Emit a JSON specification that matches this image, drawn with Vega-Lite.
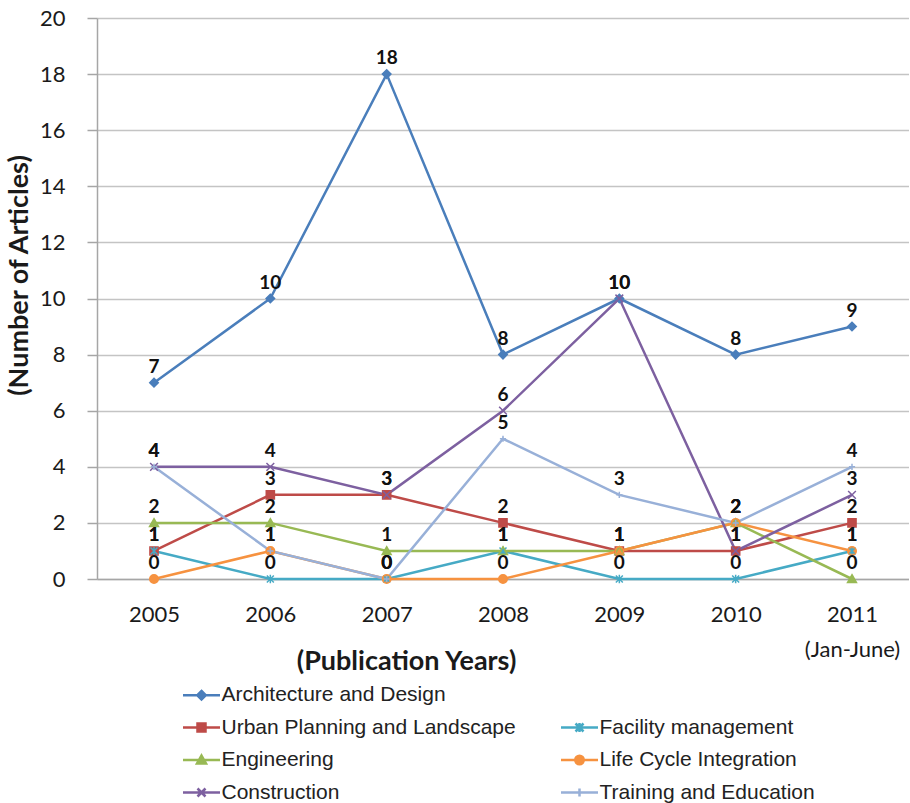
{
  "$schema": "https://vega.github.io/schema/vega-lite/v6.json",
  "width": 812,
  "height": 561,
  "padding": {"left": 5, "top": 7, "right": 0, "bottom": 0},
  "autosize": {"type": "pad"},
  "background": "white",
  "config": {
    "view": {"stroke": null},
    "font": "Lato",
    "axis": {"labelColor": "#1a1a1a", "titleColor": "#1a1a1a"}
  },
  "data": {
    "values": [
      {"year": "2005", "series": "Architecture and Design", "value": 7},
      {"year": "2006", "series": "Architecture and Design", "value": 10},
      {"year": "2007", "series": "Architecture and Design", "value": 18},
      {"year": "2008", "series": "Architecture and Design", "value": 8},
      {"year": "2009", "series": "Architecture and Design", "value": 10},
      {"year": "2010", "series": "Architecture and Design", "value": 8},
      {"year": "2011", "series": "Architecture and Design", "value": 9},
      {"year": "2005", "series": "Urban Planning and Landscape", "value": 1},
      {"year": "2006", "series": "Urban Planning and Landscape", "value": 3},
      {"year": "2007", "series": "Urban Planning and Landscape", "value": 3},
      {"year": "2008", "series": "Urban Planning and Landscape", "value": 2},
      {"year": "2009", "series": "Urban Planning and Landscape", "value": 1},
      {"year": "2010", "series": "Urban Planning and Landscape", "value": 1},
      {"year": "2011", "series": "Urban Planning and Landscape", "value": 2},
      {"year": "2005", "series": "Facility management", "value": 1},
      {"year": "2006", "series": "Facility management", "value": 0},
      {"year": "2007", "series": "Facility management", "value": 0},
      {"year": "2008", "series": "Facility management", "value": 1},
      {"year": "2009", "series": "Facility management", "value": 0},
      {"year": "2010", "series": "Facility management", "value": 0},
      {"year": "2011", "series": "Facility management", "value": 1},
      {"year": "2005", "series": "Engineering", "value": 2},
      {"year": "2006", "series": "Engineering", "value": 2},
      {"year": "2007", "series": "Engineering", "value": 1},
      {"year": "2008", "series": "Engineering", "value": 1},
      {"year": "2009", "series": "Engineering", "value": 1},
      {"year": "2010", "series": "Engineering", "value": 2},
      {"year": "2011", "series": "Engineering", "value": 0},
      {"year": "2005", "series": "Life Cycle Integration", "value": 0},
      {"year": "2006", "series": "Life Cycle Integration", "value": 1},
      {"year": "2007", "series": "Life Cycle Integration", "value": 0},
      {"year": "2008", "series": "Life Cycle Integration", "value": 0},
      {"year": "2009", "series": "Life Cycle Integration", "value": 1},
      {"year": "2010", "series": "Life Cycle Integration", "value": 2},
      {"year": "2011", "series": "Life Cycle Integration", "value": 1},
      {"year": "2005", "series": "Construction", "value": 4},
      {"year": "2006", "series": "Construction", "value": 4},
      {"year": "2007", "series": "Construction", "value": 3},
      {"year": "2008", "series": "Construction", "value": 6},
      {"year": "2009", "series": "Construction", "value": 10},
      {"year": "2010", "series": "Construction", "value": 1},
      {"year": "2011", "series": "Construction", "value": 3},
      {"year": "2005", "series": "Training and Education", "value": 4},
      {"year": "2006", "series": "Training and Education", "value": 1},
      {"year": "2007", "series": "Training and Education", "value": 0},
      {"year": "2008", "series": "Training and Education", "value": 5},
      {"year": "2009", "series": "Training and Education", "value": 3},
      {"year": "2010", "series": "Training and Education", "value": 2},
      {"year": "2011", "series": "Training and Education", "value": 4}
    ]
  },
  "resolve": {"axis": {"x": "independent"}, "legend": {"color": "independent"}},
  "layer": [
    {
      "mark": {"type": "line", "strokeWidth": 2.5},
      "encoding": {
        "x": {
          "field": "year", "type": "ordinal",
          "scale": {"type": "point", "padding": 0.49},
          "axis": {
            "orient": "bottom",
            "title": "(Publication Years)",
            "labelAngle": 0, "labelFontSize": 22, "labelPadding": 25,
            "ticks": false, "grid": false,
            "domainColor": "#a6a6a6", "domainWidth": 1.5,
            "titleFontSize": 27, "titleFontWeight": "bold",
            "titleX": 309, "titleY": 82, "titleBaseline": "middle", "titleAlign": "center", "titleAnchor": null
          }
        },
        "y": {
          "field": "value", "type": "quantitative",
          "scale": {"domain": [0, 20]},
          "axis": {
            "values": [0, 2, 4, 6, 8, 10, 12, 14, 16, 18, 20],
            "title": "(Number of Articles)",
            "grid": true, "gridColor": "#c4c4c4", "gridWidth": 1.5,
            "domainColor": "#a6a6a6", "domainWidth": 1.5,
            "ticks": true, "tickColor": "#a6a6a6", "tickSize": 10, "tickWidth": 1.5,
            "labelFontSize": 22, "labelPadding": 22,
            "titleFontSize": 27, "titleFontWeight": "bold",
            "titleX": -78, "titleY": 257, "titleBaseline": "middle", "titleAlign": "center", "titleAngle": -90
          }
        },
        "color": {
          "field": "series", "type": "nominal",
          "scale": {
            "domain": ["Architecture and Design", "_", "Urban Planning and Landscape", "Facility management", "Engineering", "Life Cycle Integration", "Construction", "Training and Education"],
            "range": ["#4A7EBB", "rgba(0,0,0,0)", "#BE4B48", "#46AAC5", "#98B954", "#F69240", "#7D60A0", "#98B0D8"]
          },
          "legend": {
            "orient": "none", "legendX": 94, "legendY": 666.5,
            "direction": "horizontal",
            "columns": 2, "title": null, "padding": 0,
            "symbolSize": 100, "symbolStrokeWidth": 2.5, "symbolOpacity": 1,
            "labelFont": "Liberation Sans", "labelFontSize": 21, "labelColor": "#222222",
            "labelOffset": 9.5, "rowPadding": 10.5, "columnPadding": 40, "labelLimit": 400,
            "labelExpr": "datum.label == '_' ? '' : datum.label",
            "encode": {
              "symbols": {
                "update": {
                  "fill": {"signal": "scale('color', datum.value)"},
                  "stroke": {"signal": "scale('color', datum.value)"},
                  "strokeWidth": {"value": 2.5},
                  "opacity": {"value": 1},
                  "shape": {"signal": "datum.value == 'Architecture and Design' ? 'M-3.7,0L3.7,0M0,-0.85L0.85,0L0,0.85L-0.85,0Z' : datum.value == 'Urban Planning and Landscape' ? 'M-3.7,0L3.7,0M-0.8,-0.8L0.8,-0.8L0.8,0.8L-0.8,0.8Z' : datum.value == 'Facility management' ? 'M-3.7,0L3.7,0M-0.8,-0.8L0.8,0.8M-0.8,0.8L0.8,-0.8M0,-0.9L0,0.9' : datum.value == 'Engineering' ? 'M-3.7,0L3.7,0M0,-0.9L0.9,0.7L-0.9,0.7Z' : datum.value == 'Life Cycle Integration' ? 'M-3.7,0L3.7,0M-0.85,0A0.85,0.85,0,1,1,0.85,0A0.85,0.85,0,1,1,-0.85,0Z' : datum.value == 'Construction' ? 'M-3.7,0L3.7,0M-0.8,-0.8L0.8,0.8M-0.8,0.8L0.8,-0.8' : datum.value == 'Training and Education' ? 'M-3.7,0L3.7,0M0,-0.8L0,0.8' : 'M0,0'"}
                }
              }
            }
          }
        }
      }
    },
    {
      "mark": {"type": "point", "filled": true, "size": 60, "opacity": 1},
      "encoding": {
        "x": {"field": "year", "type": "ordinal", "axis": null},
        "y": {"field": "value", "type": "quantitative"},
        "color": {"field": "series", "type": "nominal", "legend": null},
        "shape": {
          "field": "series", "type": "nominal",
          "scale": {
            "domain": ["Architecture and Design", "_", "Urban Planning and Landscape", "Facility management", "Engineering", "Life Cycle Integration", "Construction", "Training and Education"],
            "range": [
              "M0,-1.1L1.1,0L0,1.1L-1.1,0Z",
              "M0,0",
              "M-1.05,-1.05L1.05,-1.05L1.05,1.05L-1.05,1.05Z",
              "M-0.9,-0.9L0.9,0.9M-0.9,0.9L0.9,-0.9M0,-1.1L0,1.1",
              "M0,-1.1L1.15,0.9L-1.15,0.9Z",
              "M-1.1,0A1.1,1.1,0,1,1,1.1,0A1.1,1.1,0,1,1,-1.1,0Z",
              "M-1,-1L1,1M-1,1L1,-1",
              "M-0.8,0L0.8,0M0,-0.8L0,0.8"
            ]
          },
          "legend": null
        }
      }
    },
    {
      "mark": {"type": "point", "filled": false, "size": 60, "strokeWidth": 1.5, "opacity": 1},
      "encoding": {
        "x": {"field": "year", "type": "ordinal", "axis": null},
        "y": {"field": "value", "type": "quantitative"},
        "color": {"field": "series", "type": "nominal", "legend": null},
        "shape": {"field": "series", "type": "nominal", "legend": null}
      }
    },
    {
      "mark": {"type": "text", "dy": -16, "fontSize": 19, "fontWeight": "bold", "color": "#111111", "font": "Lato"},
      "encoding": {
        "x": {
          "field": "year", "type": "ordinal",
          "axis": {
            "orient": "bottom", "title": null, "domain": false, "ticks": false, "grid": false,
            "labelAngle": 0, "labelFontSize": 22, "labelPadding": 60,
            "labelExpr": "datum.value == '2011' ? '(Jan-June)' : ''"
          }
        },
        "y": {"field": "value", "type": "quantitative"},
        "text": {"field": "value", "type": "quantitative"}
      }
    }
  ]
}
